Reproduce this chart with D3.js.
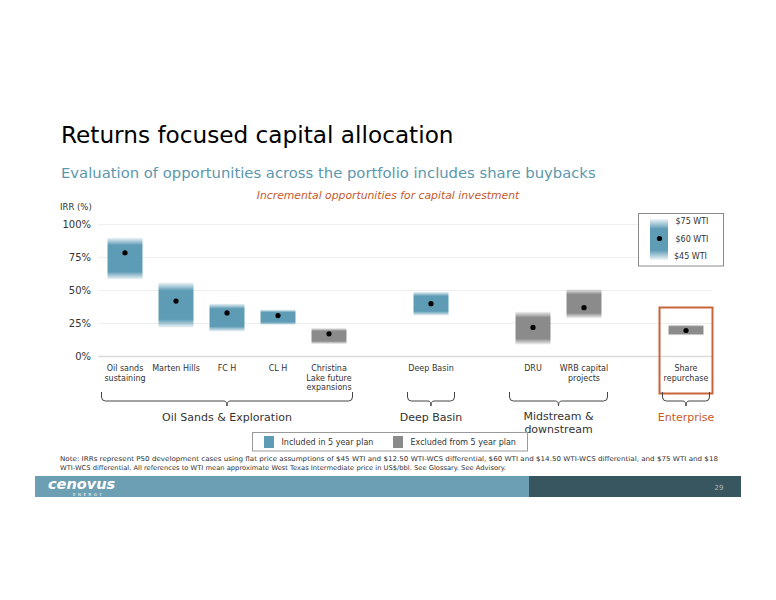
<!DOCTYPE html>
<html>
<head>
<meta charset="utf-8">
<script src="https://cdn.jsdelivr.net/npm/d3@7"></script>
<style>
  html, body { margin: 0; padding: 0; background: #fff; }
  svg { display: block; font-family: "DejaVu Sans", Verdana, sans-serif; }
</style>
</head>
<body>
<svg id="chart" width="776" height="600"></svg>
<script>
// ---------- DATA ----------
const categories = ["Oil sands sustaining", "Marten Hills", "FC H", "CL H",
  "Christina Lake future expansions", "Deep Basin", "DRU", "WRB capital projects", "Share repurchase"];
const categoryLabelLines = [["Oil sands", "sustaining"], ["Marten Hills"], ["FC H"], ["CL H"],
  ["Christina", "Lake future", "expansions"], ["Deep Basin"], ["DRU"], ["WRB capital", "projects"], ["Share", "repurchase"]];
const irrAt75 = [0.90, 0.56, 0.40, 0.355, 0.215, 0.49, 0.34, 0.51, 0.24];
const irrAt60 = [0.785, 0.42, 0.33, 0.31, 0.172, 0.40, 0.22, 0.37, 0.197];
const irrAt45 = [0.585, 0.22, 0.19, 0.24, 0.095, 0.31, 0.09, 0.29, 0.16];
const inFiveYearPlan = [true, true, true, true, false, true, false, false, false];
// slot order along the x axis (blank slots separate business groups)
const slots = ["Oil sands sustaining", "Marten Hills", "FC H", "CL H", "Christina Lake future expansions",
  "gap1", "Deep Basin", "gap2", "DRU", "WRB capital projects", "gap3", "Share repurchase"];
const yTicks = [0, 0.25, 0.5, 0.75, 1.0];
const groupLabels = [["Oil Sands & Exploration"], ["Deep Basin"], ["Midstream &", "downstream"], ["Enterprise"]];
const groupFirst = ["Oil sands sustaining", "Deep Basin", "DRU", "Share repurchase"];
const groupLast = ["Christina Lake future expansions", "Deep Basin", "WRB capital projects", "Share repurchase"];
const priceLegend = ["$75 WTI", "$60 WTI", "$45 WTI"];
const planLegend = ["Included in 5 year plan", "Excluded from 5 year plan"];
const titleText = "Returns focused capital allocation";
const subtitleText = "Evaluation of opportunities across the portfolio includes share buybacks";
const chartTitle = "Incremental opportunities for capital investment";
const yAxisTitle = "IRR (%)";
const noteLines = [
  "Note: IRRs represent P50 development cases using flat price assumptions of $45 WTI and $12.50 WTI-WCS differential, $60 WTI and $14.50 WTI-WCS differential, and $75 WTI and $18",
  "WTI-WCS differential. All references to WTI mean approximate West Texas Intermediate price in US$/bbl. See Glossary. See Advisory."
];
const pageNumber = "29";

// ---------- STYLE ----------
const BLUE = "#5e9cb6", GRAY = "#8b8b8b", ORANGE = "#c55a2b", TEXT = "#333";

const svg = d3.select("#chart");
const defs = svg.append("defs");
function fadeGradient(id, color, edge, lo) {
  const g = defs.append("linearGradient").attr("id", id).attr("x1", 0).attr("x2", 0).attr("y1", 0).attr("y2", 1);
  g.append("stop").attr("offset", 0).attr("stop-color", color).attr("stop-opacity", lo);
  g.append("stop").attr("offset", edge).attr("stop-color", color).attr("stop-opacity", 1);
  g.append("stop").attr("offset", 1 - edge).attr("stop-color", color).attr("stop-opacity", 1);
  g.append("stop").attr("offset", 1).attr("stop-color", color).attr("stop-opacity", lo);
}
fadeGradient("gBlue", BLUE, 0.18, 0.1);
fadeGradient("gGray", GRAY, 0.18, 0.1);
fadeGradient("gLegend", BLUE, 0.24, 0.1);

// titles
svg.append("text").attr("x", 61).attr("y", 143).attr("font-size", 23.2).attr("fill", "#000").text(titleText);
svg.append("text").attr("x", 61).attr("y", 178).attr("font-size", 14.8).attr("fill", "#5b97ae").text(subtitleText);
svg.append("text").attr("x", 388).attr("y", 199).attr("text-anchor", "middle").attr("font-size", 10.8)
  .attr("font-style", "italic").attr("fill", ORANGE).text(chartTitle);
svg.append("text").attr("x", 60).attr("y", 210).attr("font-size", 8.5).attr("fill", TEXT).text(yAxisTitle);

// scales
const x = d3.scaleBand().domain(slots).range([99.5, 711.5]).paddingInner(0.314).paddingOuter(0.157);
const y = d3.scaleLinear().domain([0, 1]).range([356.5, 224.5]);
const plotLeft = 98, plotRight = 712;

// gridlines
svg.append("g").selectAll("line").data(yTicks).join("line")
  .attr("x1", plotLeft).attr("x2", plotRight)
  .attr("y1", d => y(d)).attr("y2", d => y(d))
  .attr("stroke", d => d === 0 ? "#dcdcdc" : "#efefef").attr("stroke-width", d => d === 0 ? 1.5 : 1);

// y axis labels
const yAxis = d3.axisLeft(y).tickValues(yTicks).tickFormat(d3.format(".0%")).tickSize(0).tickPadding(0);
const yg = svg.append("g").attr("transform", "translate(91,0)").call(yAxis);
yg.select(".domain").remove();
yg.selectAll("text").attr("font-size", 10).attr("fill", TEXT).attr("font-family", "DejaVu Sans, sans-serif");

// bars
const rows = categories.map((c, i) => ({ c, hi: irrAt75[i], mid: irrAt60[i], lo: irrAt45[i], plan: inFiveYearPlan[i], lines: categoryLabelLines[i] }));
svg.append("g").selectAll("rect").data(rows).join("rect")
  .attr("x", d => x(d.c)).attr("width", x.bandwidth())
  .attr("y", d => y(d.hi)).attr("height", d => y(d.lo) - y(d.hi))
  .attr("fill", d => d.plan ? "url(#gBlue)" : "url(#gGray)");
svg.append("g").selectAll("circle").data(rows).join("circle")
  .attr("cx", d => x(d.c) + x.bandwidth() / 2).attr("cy", d => y(d.mid)).attr("r", 2.6).attr("fill", "#000");

// category labels
const lab = svg.append("g").selectAll("text").data(rows).join("text")
  .attr("x", d => x(d.c) + x.bandwidth() / 2).attr("y", 371)
  .attr("text-anchor", "middle").attr("font-size", 8).attr("fill", TEXT);
lab.selectAll("tspan").data(d => d.lines).join("tspan")
  .attr("x", function () { return d3.select(this.parentNode).attr("x"); })
  .attr("dy", (d, i) => i === 0 ? 0 : 9.5).text(d => d);

// red box around enterprise category
const ent = "Share repurchase";
svg.append("rect").attr("x", x(ent) - 9).attr("width", x.bandwidth() + 18)
  .attr("y", 307.5).attr("height", 86).attr("fill", "none").attr("stroke", "#c8643a").attr("stroke-width", 2);

// braces + group labels
const step = x.step();
groupLabels.forEach((lines, i) => {
  const x0 = x(groupFirst[i]) + x.bandwidth() / 2 - step / 2 + 2;
  const x1 = x(groupLast[i]) + x.bandwidth() / 2 + step / 2 - 2;
  const xc = (x0 + x1) / 2;
  const yt = 392, yb = 401, r = 4;
  const p = `M${x0},${yt} L${x0},${yb - r} Q${x0},${yb} ${x0 + r},${yb} L${xc - 3},${yb} Q${xc},${yb} ${xc},${yb + 5} Q${xc},${yb} ${xc + 3},${yb} L${x1 - r},${yb} Q${x1},${yb} ${x1},${yb - r} L${x1},${yt}`;
  svg.append("path").attr("d", p).attr("fill", "none").attr("stroke", "#444").attr("stroke-width", 1);
  const t = svg.append("text").attr("x", xc).attr("y", lines.length === 1 ? 421 : 420)
    .attr("text-anchor", "middle").attr("font-size", 11)
    .attr("fill", i === groupLabels.length - 1 ? ORANGE : TEXT);
  lines.forEach((l, j) => t.append("tspan").attr("x", xc).attr("dy", j === 0 ? 0 : 12.5).text(l));
});

// top-right price legend
svg.append("rect").attr("x", 638.5).attr("y", 213.5).attr("width", 85).attr("height", 52.5)
  .attr("fill", "#fff").attr("stroke", "#8a8a8a").attr("stroke-width", 1);
svg.append("rect").attr("x", 650).attr("y", 219).attr("width", 18).attr("height", 41).attr("fill", "url(#gLegend)");
svg.append("circle").attr("cx", 659.5).attr("cy", 238.5).attr("r", 2.6).attr("fill", "#000");
svg.append("g").selectAll("text").data(priceLegend).join("text")
  .attr("x", (d, i) => i === 2 ? 674 : 675.5).attr("y", (d, i) => 224 + i * 17.7)
  .attr("font-size", 8).attr("fill", TEXT).text(d => d);

// bottom plan legend
svg.append("rect").attr("x", 252.5).attr("y", 432.5).attr("width", 275).attr("height", 18.5)
  .attr("fill", "#fff").attr("stroke", "#9a9a9a").attr("stroke-width", 1);
const pl = svg.append("g").selectAll("g").data(planLegend).join("g")
  .attr("transform", (d, i) => `translate(${i === 0 ? 264 : 393},0)`);
pl.append("rect").attr("x", 0).attr("y", 436).attr("width", 10).attr("height", 12).attr("fill", (d, i) => i === 0 ? BLUE : GRAY);
pl.append("text").attr("x", 17.5).attr("y", 445).attr("font-size", 8).attr("fill", TEXT).text(d => d);

// note
svg.append("g").selectAll("text").data(noteLines).join("text")
  .attr("x", 60).attr("y", (d, i) => 461 + i * 9).attr("font-size", 6.6).attr("fill", TEXT)
  .attr("textLength", (d, i) => i === 0 ? 658 : 446).attr("lengthAdjust", "spacingAndGlyphs").text(d => d);

// footer
svg.append("rect").attr("x", 35).attr("y", 476).attr("width", 494).attr("height", 21).attr("fill", "#6c9fb4");
svg.append("rect").attr("x", 529).attr("y", 476).attr("width", 212).attr("height", 21).attr("fill", "#38565f");
svg.append("text").attr("x", 48).attr("y", 489).attr("font-size", 14.5).attr("font-weight", "bold")
  .attr("font-style", "italic").attr("fill", "#fff").text("cenovus");
svg.append("text").attr("x", 73).attr("y", 495.5).attr("font-size", 4).attr("fill", "#fff")
  .attr("letter-spacing", 2.5).text("ENERGY");
svg.append("text").attr("x", 719).attr("y", 490).attr("text-anchor", "middle").attr("font-size", 7)
  .attr("fill", "#a9b9be").text(pageNumber);
</script>
</body>
</html>
